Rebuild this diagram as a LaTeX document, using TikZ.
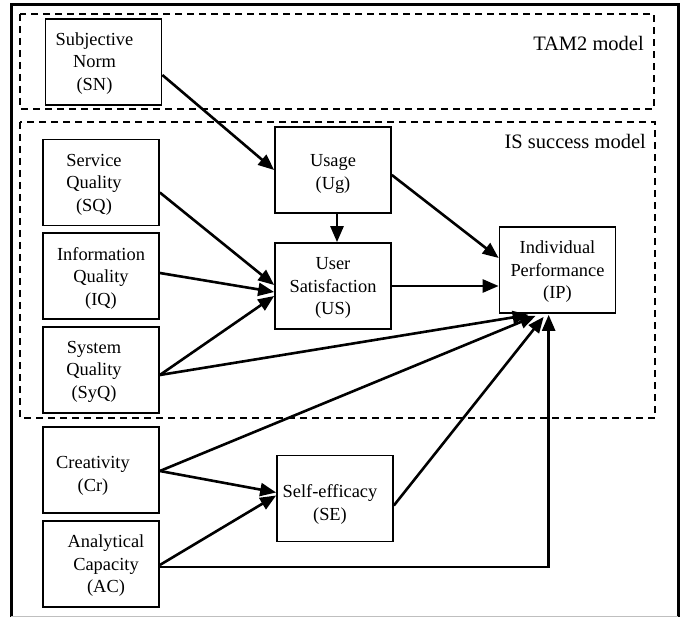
\documentclass[tikz,border=0pt]{standalone}
\usepackage{fontspec}
\setmainfont{Liberation Serif}
\usetikzlibrary{arrows.meta,calc}
\newcommand\mybox[4]{%
  \node[boxnode] (#1) at (#2) {};
  \node[txtnode] (#1-t) at ($(#1.center)+(#3)$) {#4};}
\begin{document}
\begin{tikzpicture}[x=1pt,y=-1pt,
  boxnode/.style={draw,line width=1.7pt,minimum width=116pt,minimum height=86pt,inner sep=0pt},
  txtnode/.style={align=center,inner sep=0pt,font=\fontsize{18.4}{22.5}\selectfont},
  arr/.style={line width=2.6pt,-{Triangle[length=16pt,width=13pt]}},
  dbox/.style={line width=2pt,dash pattern=on 7pt off 5pt},
  lbl/.style={anchor=east,inner sep=0pt,font=\fontsize{20.5}{24}\selectfont}]
\useasboundingbox (0,0) rectangle (682,617);
% outer frame
\draw[line width=3pt] (11,617) -- (11,5) -- (678,5) -- (678,617);
\draw[black!25,line width=1pt] (11,616) -- (678,616);
% model frames
\draw[dbox] (20,14) rectangle (654,109);
\draw[dbox] (20,122) rectangle (655,418);
\node[lbl] (tam) at (644,43) {TAM2 model};
\node[lbl] (iss) at (646,141) {IS success model};
% boxes
\mybox{sn}{103.5,62}{-9,1.5}{Subjective\\Norm\\(SN)}
\mybox{sq}{101,182.5}{-7,2}{Service\\Quality\\(SQ)}
\mybox{iq}{101,276}{0,2}{Information\\Quality\\(IQ)}
\mybox{syq}{101,370}{-7,1.5}{System\\Quality\\(SyQ)}
\mybox{cr}{101,470}{-8,6}{Creativity\\(Cr)}
\mybox{ac}{101,564}{5,2}{Analytical\\Capacity\\(AC)}
\mybox{ug}{333,170}{0,4}{Usage\\(Ug)}
\mybox{us}{333,286}{0,2}{User\\Satisfaction\\(US)}
\mybox{se}{335,498.5}{-5,6}{Self-efficacy\\(SE)}
\mybox{ip}{557.5,270}{0,2}{Individual\\Performance\\(IP)}
% connectors
\draw[arr] ($(sn.east)+(0,13)$) -- (ug.west);
\draw[arr] ($(ug.south)+(4,0)$) -- ($(us.north)+(4,0)$);
\draw[arr] ($(ug.east)+(0,5)$) -- ($(ip.west)+(0,-12)$);
\draw[arr] (us.east) -- (us.east -| ip.west);
\draw[arr] ($(sq.east)+(0,10)$) -- ($(us.west)+(0,-1)$);
\draw[arr] ($(iq.east)+(0,-3)$) -- ($(us.west)+(0,6)$);
\draw[arr] ($(syq.east)+(0,5)$) coordinate (syqo) -- ($(us.west)+(0,10)$);
\draw[arr] (syqo) -- ($(ip.south west)+(30,1)$);
\draw[arr] ($(cr.east)+(0,1)$) coordinate (cro) -- ($(se.west)+(0,-6)$);
\draw[arr] (cro) -- ($(ip.south west)+(37,2)$);
\draw[arr] ($(ac.east)+(0,1)$) -- ($(se.west)+(0,-3)$);
\draw[arr] ($(ac.east)+(0,3)$) -| ($(ip.south west)+(50,1)$);
\draw[arr] ($(se.east)+(0,7)$) -- ($(ip.south west)+(45,3)$);
\end{tikzpicture}
\end{document}
